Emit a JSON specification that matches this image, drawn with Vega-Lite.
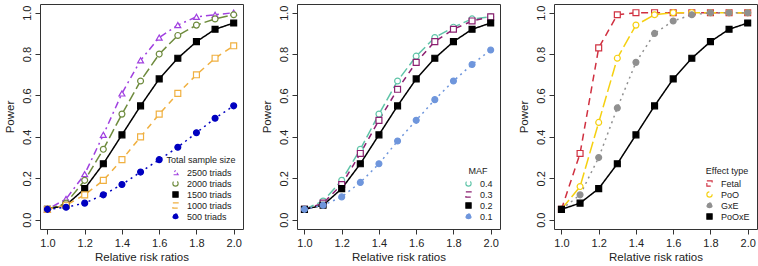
{
  "$schema": "https://vega.github.io/schema/vega-lite/v6.json",
  "padding": {"left": 3, "top": 3, "right": 2, "bottom": 2},
  "background": "white",
  "config": {
    "font": "Liberation Sans",
    "view": {"stroke": "#333", "strokeWidth": 1},
    "axis": {"domain": false, "grid": false, "tickColor": "#333", "tickSize": 5, "labelColor": "#222", "titleColor": "#222", "labelFontSize": 11, "titleFontSize": 11.5, "titleFontWeight": "normal", "labelFont": "Liberation Sans", "titleFont": "Liberation Sans"},
    "axisX": {"labelPadding": 3, "titlePadding": 3, "values": [1.0, 1.2, 1.4, 1.6, 1.8, 2.0], "format": ".1f", "labelFlush": false},
    "axisY": {"labelAngle": -90, "labelAlign": "center", "labelBaseline": "bottom", "labelPadding": 3, "titlePadding": 6, "values": [0, 0.2, 0.4, 0.6, 0.8, 1.0], "format": ".1f", "labelFlush": false},
    "legend": {"orient": "bottom-right", "offset": 7, "titleFontSize": 9, "titleFontWeight": "normal", "labelFontSize": 9, "titleColor": "#222", "labelColor": "#222", "rowPadding": 0, "symbolSize": 28, "symbolStrokeWidth": 1.1, "padding": 0, "titlePadding": 3, "labelOffset": 7, "titleAnchor": "middle"}
  },
  "datasets": {
    "p1": [
      {"x": 1.0, "power": 0.05, "series": "2500 triads"}, {"x": 1.1, "power": 0.10, "series": "2500 triads"}, {"x": 1.2, "power": 0.22, "series": "2500 triads"}, {"x": 1.3, "power": 0.41, "series": "2500 triads"}, {"x": 1.4, "power": 0.61, "series": "2500 triads"}, {"x": 1.5, "power": 0.77, "series": "2500 triads"}, {"x": 1.6, "power": 0.88, "series": "2500 triads"}, {"x": 1.7, "power": 0.94, "series": "2500 triads"}, {"x": 1.8, "power": 0.98, "series": "2500 triads"}, {"x": 1.9, "power": 0.99, "series": "2500 triads"}, {"x": 2.0, "power": 1.00, "series": "2500 triads"},
      {"x": 1.0, "power": 0.05, "series": "2000 triads"}, {"x": 1.1, "power": 0.08, "series": "2000 triads"}, {"x": 1.2, "power": 0.19, "series": "2000 triads"}, {"x": 1.3, "power": 0.34, "series": "2000 triads"}, {"x": 1.4, "power": 0.51, "series": "2000 triads"}, {"x": 1.5, "power": 0.67, "series": "2000 triads"}, {"x": 1.6, "power": 0.80, "series": "2000 triads"}, {"x": 1.7, "power": 0.89, "series": "2000 triads"}, {"x": 1.8, "power": 0.94, "series": "2000 triads"}, {"x": 1.9, "power": 0.97, "series": "2000 triads"}, {"x": 2.0, "power": 0.99, "series": "2000 triads"},
      {"x": 1.0, "power": 0.05, "series": "1500 triads"}, {"x": 1.1, "power": 0.07, "series": "1500 triads"}, {"x": 1.2, "power": 0.15, "series": "1500 triads"}, {"x": 1.3, "power": 0.27, "series": "1500 triads"}, {"x": 1.4, "power": 0.41, "series": "1500 triads"}, {"x": 1.5, "power": 0.55, "series": "1500 triads"}, {"x": 1.6, "power": 0.68, "series": "1500 triads"}, {"x": 1.7, "power": 0.78, "series": "1500 triads"}, {"x": 1.8, "power": 0.86, "series": "1500 triads"}, {"x": 1.9, "power": 0.92, "series": "1500 triads"}, {"x": 2.0, "power": 0.95, "series": "1500 triads"},
      {"x": 1.0, "power": 0.05, "series": "1000 triads"}, {"x": 1.1, "power": 0.07, "series": "1000 triads"}, {"x": 1.2, "power": 0.12, "series": "1000 triads"}, {"x": 1.3, "power": 0.19, "series": "1000 triads"}, {"x": 1.4, "power": 0.29, "series": "1000 triads"}, {"x": 1.5, "power": 0.40, "series": "1000 triads"}, {"x": 1.6, "power": 0.51, "series": "1000 triads"}, {"x": 1.7, "power": 0.61, "series": "1000 triads"}, {"x": 1.8, "power": 0.70, "series": "1000 triads"}, {"x": 1.9, "power": 0.78, "series": "1000 triads"}, {"x": 2.0, "power": 0.84, "series": "1000 triads"},
      {"x": 1.0, "power": 0.05, "series": "500 triads"}, {"x": 1.1, "power": 0.06, "series": "500 triads"}, {"x": 1.2, "power": 0.08, "series": "500 triads"}, {"x": 1.3, "power": 0.12, "series": "500 triads"}, {"x": 1.4, "power": 0.17, "series": "500 triads"}, {"x": 1.5, "power": 0.23, "series": "500 triads"}, {"x": 1.6, "power": 0.29, "series": "500 triads"}, {"x": 1.7, "power": 0.35, "series": "500 triads"}, {"x": 1.8, "power": 0.42, "series": "500 triads"}, {"x": 1.9, "power": 0.49, "series": "500 triads"}, {"x": 2.0, "power": 0.55, "series": "500 triads"}
    ],
    "p2": [
      {"x": 1.0, "power": 0.05, "series": "0.4"}, {"x": 1.1, "power": 0.09, "series": "0.4"}, {"x": 1.2, "power": 0.19, "series": "0.4"}, {"x": 1.3, "power": 0.34, "series": "0.4"}, {"x": 1.4, "power": 0.51, "series": "0.4"}, {"x": 1.5, "power": 0.67, "series": "0.4"}, {"x": 1.6, "power": 0.79, "series": "0.4"}, {"x": 1.7, "power": 0.88, "series": "0.4"}, {"x": 1.8, "power": 0.93, "series": "0.4"}, {"x": 1.9, "power": 0.97, "series": "0.4"}, {"x": 2.0, "power": 0.98, "series": "0.4"},
      {"x": 1.0, "power": 0.05, "series": "0.3"}, {"x": 1.1, "power": 0.08, "series": "0.3"}, {"x": 1.2, "power": 0.17, "series": "0.3"}, {"x": 1.3, "power": 0.32, "series": "0.3"}, {"x": 1.4, "power": 0.48, "series": "0.3"}, {"x": 1.5, "power": 0.63, "series": "0.3"}, {"x": 1.6, "power": 0.76, "series": "0.3"}, {"x": 1.7, "power": 0.86, "series": "0.3"}, {"x": 1.8, "power": 0.92, "series": "0.3"}, {"x": 1.9, "power": 0.96, "series": "0.3"}, {"x": 2.0, "power": 0.98, "series": "0.3"},
      {"x": 1.0, "power": 0.05, "series": "0.2"}, {"x": 1.1, "power": 0.07, "series": "0.2"}, {"x": 1.2, "power": 0.15, "series": "0.2"}, {"x": 1.3, "power": 0.27, "series": "0.2"}, {"x": 1.4, "power": 0.41, "series": "0.2"}, {"x": 1.5, "power": 0.55, "series": "0.2"}, {"x": 1.6, "power": 0.68, "series": "0.2"}, {"x": 1.7, "power": 0.78, "series": "0.2"}, {"x": 1.8, "power": 0.86, "series": "0.2"}, {"x": 1.9, "power": 0.92, "series": "0.2"}, {"x": 2.0, "power": 0.95, "series": "0.2"},
      {"x": 1.0, "power": 0.05, "series": "0.1"}, {"x": 1.1, "power": 0.07, "series": "0.1"}, {"x": 1.2, "power": 0.11, "series": "0.1"}, {"x": 1.3, "power": 0.18, "series": "0.1"}, {"x": 1.4, "power": 0.27, "series": "0.1"}, {"x": 1.5, "power": 0.38, "series": "0.1"}, {"x": 1.6, "power": 0.48, "series": "0.1"}, {"x": 1.7, "power": 0.58, "series": "0.1"}, {"x": 1.8, "power": 0.67, "series": "0.1"}, {"x": 1.9, "power": 0.75, "series": "0.1"}, {"x": 2.0, "power": 0.82, "series": "0.1"}
    ],
    "p3": [
      {"x": 1.0, "power": 0.05, "series": "Fetal"}, {"x": 1.1, "power": 0.32, "series": "Fetal"}, {"x": 1.2, "power": 0.83, "series": "Fetal"}, {"x": 1.3, "power": 0.99, "series": "Fetal"}, {"x": 1.4, "power": 1.00, "series": "Fetal"}, {"x": 1.5, "power": 1.00, "series": "Fetal"}, {"x": 1.6, "power": 1.00, "series": "Fetal"}, {"x": 1.7, "power": 1.00, "series": "Fetal"}, {"x": 1.8, "power": 1.00, "series": "Fetal"}, {"x": 1.9, "power": 1.00, "series": "Fetal"}, {"x": 2.0, "power": 1.00, "series": "Fetal"},
      {"x": 1.0, "power": 0.05, "series": "PoO"}, {"x": 1.1, "power": 0.16, "series": "PoO"}, {"x": 1.2, "power": 0.47, "series": "PoO"}, {"x": 1.3, "power": 0.78, "series": "PoO"}, {"x": 1.4, "power": 0.94, "series": "PoO"}, {"x": 1.5, "power": 0.99, "series": "PoO"}, {"x": 1.6, "power": 1.00, "series": "PoO"}, {"x": 1.7, "power": 1.00, "series": "PoO"}, {"x": 1.8, "power": 1.00, "series": "PoO"}, {"x": 1.9, "power": 1.00, "series": "PoO"}, {"x": 2.0, "power": 1.00, "series": "PoO"},
      {"x": 1.0, "power": 0.05, "series": "GxE"}, {"x": 1.1, "power": 0.12, "series": "GxE"}, {"x": 1.2, "power": 0.30, "series": "GxE"}, {"x": 1.3, "power": 0.54, "series": "GxE"}, {"x": 1.4, "power": 0.76, "series": "GxE"}, {"x": 1.5, "power": 0.90, "series": "GxE"}, {"x": 1.6, "power": 0.96, "series": "GxE"}, {"x": 1.7, "power": 0.99, "series": "GxE"}, {"x": 1.8, "power": 1.00, "series": "GxE"}, {"x": 1.9, "power": 1.00, "series": "GxE"}, {"x": 2.0, "power": 1.00, "series": "GxE"},
      {"x": 1.0, "power": 0.05, "series": "PoOxE"}, {"x": 1.1, "power": 0.08, "series": "PoOxE"}, {"x": 1.2, "power": 0.15, "series": "PoOxE"}, {"x": 1.3, "power": 0.27, "series": "PoOxE"}, {"x": 1.4, "power": 0.41, "series": "PoOxE"}, {"x": 1.5, "power": 0.55, "series": "PoOxE"}, {"x": 1.6, "power": 0.68, "series": "PoOxE"}, {"x": 1.7, "power": 0.78, "series": "PoOxE"}, {"x": 1.8, "power": 0.86, "series": "PoOxE"}, {"x": 1.9, "power": 0.92, "series": "PoOxE"}, {"x": 2.0, "power": 0.95, "series": "PoOxE"}
    ]
  },
  "hconcat": [
    {
      "width": 203, "height": 225,
      "data": {"name": "p1"},
      "encoding": {
        "x": {"field": "x", "type": "quantitative", "title": "Relative risk ratios", "scale": {"domain": [0.96, 2.05], "nice": false, "zero": false}},
        "y": {"field": "power", "type": "quantitative", "title": "Power", "scale": {"domain": [-0.045, 1.042], "nice": false, "zero": false}}
      },
      "layer": [
        {
          "mark": {"type": "line", "strokeWidth": 1.5},
          "encoding": {
            "color": {"field": "series", "type": "nominal", "title": "Total sample size", "scale": {"domain": ["2500 triads", "2000 triads", "1500 triads", "1000 triads", "500 triads"], "range": ["#A040E0", "#6E8B3D", "#000000", "#F0B040", "#0000C0"]}},
            "strokeDash": {"field": "series", "type": "nominal", "title": "Total sample size", "scale": {"domain": ["2500 triads", "2000 triads", "1500 triads", "1000 triads", "500 triads"], "range": [[2, 4, 7, 4], [10, 4], [1, 0], [6, 5], [2, 4]]}}
          }
        },
        {
          "mark": {"type": "point", "size": 35, "strokeWidth": 1.2, "opacity": 1},
          "encoding": {
            "color": {"field": "series", "type": "nominal", "title": "Total sample size", "scale": {"domain": ["2500 triads", "2000 triads", "1500 triads", "1000 triads", "500 triads"], "range": ["#A040E0", "#6E8B3D", "#000000", "#F0B040", "#0000C0"]}},
            "shape": {"field": "series", "type": "nominal", "title": "Total sample size", "scale": {"domain": ["2500 triads", "2000 triads", "1500 triads", "1000 triads", "500 triads"], "range": ["triangle-up", "circle", "square", "square", "circle"]}},
            "fill": {"field": "series", "type": "nominal", "title": "Total sample size", "scale": {"domain": ["2500 triads", "2000 triads", "1500 triads", "1000 triads", "500 triads"], "range": ["#ffffff", "#ffffff", "#000000", "#ffffff", "#0000C0"]}}
          }
        }
      ]
    },
    {
      "width": 203, "height": 225,
      "data": {"name": "p2"},
      "encoding": {
        "x": {"field": "x", "type": "quantitative", "title": "Relative risk ratios", "scale": {"domain": [0.96, 2.05], "nice": false, "zero": false}},
        "y": {"field": "power", "type": "quantitative", "title": "Power", "scale": {"domain": [-0.045, 1.042], "nice": false, "zero": false}}
      },
      "layer": [
        {
          "mark": {"type": "line", "strokeWidth": 1.5},
          "encoding": {
            "color": {"field": "series", "type": "nominal", "title": "MAF", "scale": {"domain": ["0.4", "0.3", "0.2", "0.1"], "range": ["#5FC4A8", "#8B2070", "#000000", "#6F96DC"]}},
            "strokeDash": {"field": "series", "type": "nominal", "title": "MAF", "scale": {"domain": ["0.4", "0.3", "0.2", "0.1"], "range": [[10, 4], [6, 5], [1, 0], [2, 4]]}}
          }
        },
        {
          "mark": {"type": "point", "size": 35, "strokeWidth": 1.2, "opacity": 1},
          "encoding": {
            "color": {"field": "series", "type": "nominal", "title": "MAF", "scale": {"domain": ["0.4", "0.3", "0.2", "0.1"], "range": ["#5FC4A8", "#8B2070", "#000000", "#6F96DC"]}},
            "shape": {"field": "series", "type": "nominal", "title": "MAF", "scale": {"domain": ["0.4", "0.3", "0.2", "0.1"], "range": ["circle", "square", "square", "circle"]}},
            "fill": {"field": "series", "type": "nominal", "title": "MAF", "scale": {"domain": ["0.4", "0.3", "0.2", "0.1"], "range": ["#ffffff", "#ffffff", "#000000", "#6F96DC"]}}
          }
        }
      ]
    },
    {
      "width": 203, "height": 225,
      "data": {"name": "p3"},
      "encoding": {
        "x": {"field": "x", "type": "quantitative", "title": "Relative risk ratios", "scale": {"domain": [0.96, 2.05], "nice": false, "zero": false}},
        "y": {"field": "power", "type": "quantitative", "title": "Power", "scale": {"domain": [-0.045, 1.042], "nice": false, "zero": false}}
      },
      "layer": [
        {
          "mark": {"type": "line", "strokeWidth": 1.5},
          "encoding": {
            "color": {"field": "series", "type": "nominal", "title": "Effect type", "scale": {"domain": ["Fetal", "PoO", "GxE", "PoOxE"], "range": ["#D03040", "#F5D010", "#909090", "#000000"]}},
            "strokeDash": {"field": "series", "type": "nominal", "title": "Effect type", "scale": {"domain": ["Fetal", "PoO", "GxE", "PoOxE"], "range": [[7, 5], [12, 4], [2, 4], [1, 0]]}}
          }
        },
        {
          "mark": {"type": "point", "size": 35, "strokeWidth": 1.2, "opacity": 1},
          "encoding": {
            "color": {"field": "series", "type": "nominal", "title": "Effect type", "scale": {"domain": ["Fetal", "PoO", "GxE", "PoOxE"], "range": ["#D03040", "#F5D010", "#909090", "#000000"]}},
            "shape": {"field": "series", "type": "nominal", "title": "Effect type", "scale": {"domain": ["Fetal", "PoO", "GxE", "PoOxE"], "range": ["square", "circle", "circle", "square"]}},
            "fill": {"field": "series", "type": "nominal", "title": "Effect type", "scale": {"domain": ["Fetal", "PoO", "GxE", "PoOxE"], "range": ["#ffffff", "#ffffff", "#909090", "#000000"]}}
          }
        }
      ]
    }
  ],
  "spacing": 54,
  "bounds": "flush",
  "resolve": {"scale": {"color": "independent", "shape": "independent", "fill": "independent", "strokeDash": "independent", "x": "independent", "y": "independent"}, "legend": {"color": "independent", "shape": "independent", "fill": "independent", "strokeDash": "independent"}}
}
